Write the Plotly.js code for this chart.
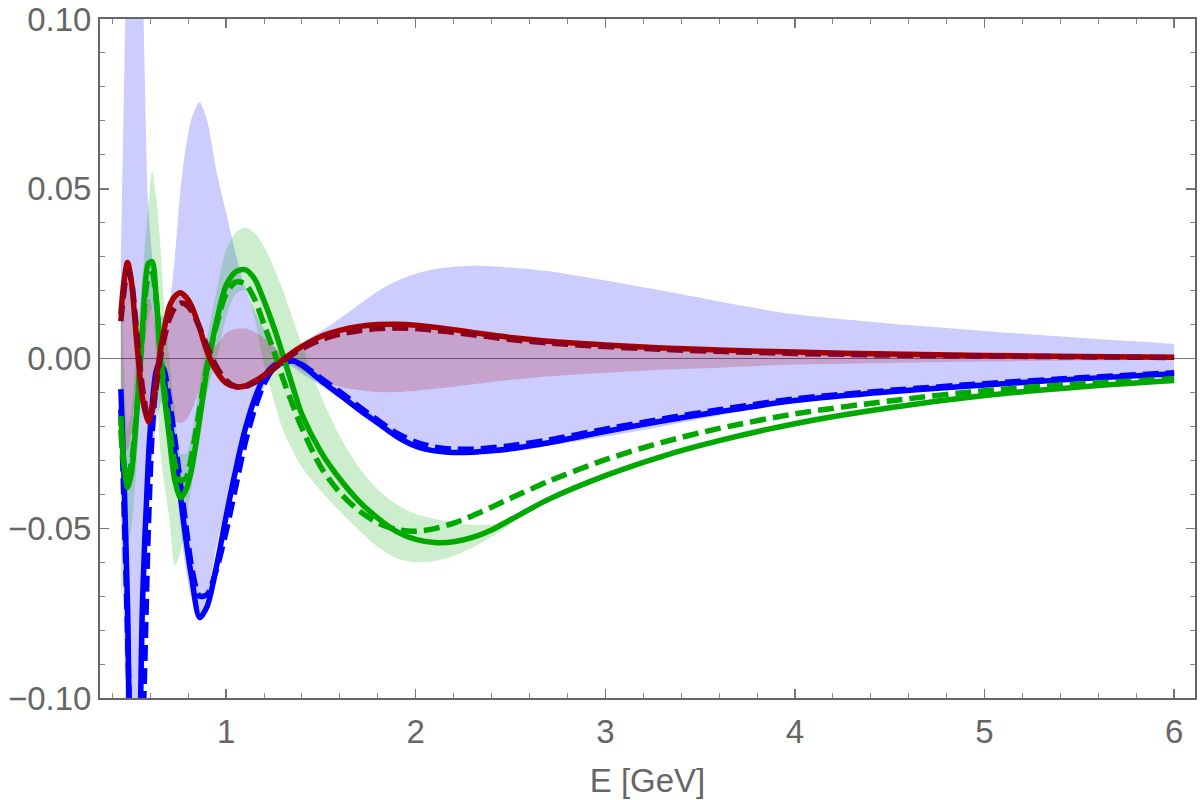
<!DOCTYPE html>
<html>
<head>
<meta charset="utf-8">
<script src="https://cdn.plot.ly/plotly-3.0.1.min.js"></script>
<style>
  html, body { margin: 0; padding: 0; background: #fff; }
  #plot { width: 1200px; height: 800px; }
</style>
</head>
<body>
<div id="plot"></div>
<script>
// energy grid [GeV]
const energy = [0.445, 0.46, 0.48, 0.5, 0.53, 0.56, 0.59, 0.61, 0.63, 0.65, 0.67, 0.7, 0.73, 0.76, 0.79, 0.82, 0.86, 0.9, 0.95, 1.0,
    1.05, 1.1, 1.15, 1.2, 1.25, 1.3, 1.35, 1.4, 1.5, 1.6, 1.7, 1.8, 1.9, 2.0, 2.1, 2.2, 2.3, 2.4, 2.5, 2.7,
    3.0, 3.3, 3.6, 4.0, 4.5, 5.0, 5.5, 6.0]

const blueSolid = [-0.009, -0.032, -0.072, -0.12, -0.13, -0.07, -0.03, -0.014, -0.004, -0.001, -0.005, -0.017, -0.028, -0.041, -0.054, -0.065, -0.0763, -0.073, -0.061, -0.0465,
    -0.033, -0.021, -0.012, -0.0055, -0.0022, -0.0008, -0.0006, -0.002, -0.0065, -0.0107, -0.015, -0.0190, -0.0230, -0.0258, -0.0272, -0.0277, -0.0276, -0.0272, -0.0266, -0.0248,
    -0.0215, -0.0184, -0.0157, -0.0124, -0.0098, -0.0078, -0.006, -0.0045]
const blueDashed = [-0.015, -0.04, -0.08, -0.12, -0.14, -0.11, -0.05, -0.022, -0.008, -0.002, -0.003, -0.012, -0.024, -0.037, -0.05, -0.062, -0.070, -0.0695, -0.062, -0.051,
    -0.038, -0.025, -0.015, -0.0075, -0.003, -0.0012, -0.0008, -0.0018, -0.0058, -0.0098, -0.0141, -0.0182, -0.0220, -0.0246, -0.0261, -0.0267, -0.0267, -0.0263, -0.0257, -0.024,
    -0.0208, -0.0178, -0.0151, -0.0119, -0.0094, -0.0074, -0.0057, -0.0042]

const greenSolid = [-0.017, -0.03, -0.038, -0.034, -0.015, 0.01, 0.028, 0.0285, 0.019, 0.003, -0.009, -0.023, -0.036, -0.041, -0.0385, -0.032, -0.018, -0.003, 0.011, 0.0215,
    0.0255, 0.0262, 0.0235, 0.017, 0.0095, 0.001, -0.008, -0.0165, -0.0275, -0.0355, -0.042, -0.047, -0.051, -0.0533, -0.0542, -0.054, -0.0527, -0.0505, -0.0475, -0.0415,
    -0.0345, -0.0288, -0.0242, -0.0192, -0.0145, -0.0109, -0.0084, -0.0065]
const greenDashed = [-0.021, -0.031, -0.035, -0.031, -0.014, 0.008, 0.024, 0.025, 0.018, 0.005, -0.007, -0.02, -0.031, -0.036, -0.035, -0.028, -0.015, -0.002, 0.01, 0.019,
    0.0225, 0.022, 0.0175, 0.01, 0.0025, -0.006, -0.0135, -0.0205, -0.032, -0.0395, -0.0448, -0.0484, -0.0504, -0.0509, -0.0501, -0.0485, -0.0463, -0.0438, -0.0412, -0.0362,
    -0.0298, -0.0247, -0.0206, -0.0163, -0.0125, -0.0095, -0.0075, -0.006]

const redSolid = [0.013, 0.022, 0.0283, 0.023, 0.004, -0.012, -0.0187, -0.0145, -0.007, 0.001, 0.0075, 0.0152, 0.0183, 0.0194, 0.018, 0.0152, 0.009, 0.002, -0.0038, -0.0072,
    -0.0083, -0.0081, -0.0067, -0.0049, -0.0027, -0.0004, 0.0018, 0.0036, 0.0065, 0.0083, 0.0094, 0.01, 0.0101, 0.0098, 0.0092, 0.0085, 0.0077, 0.0069, 0.0062, 0.0051,
    0.004, 0.0031, 0.0025, 0.0019, 0.0013, 0.0009, 0.0006, 0.0004]
const redDashed = [0.011, 0.019, 0.026, 0.023, 0.007, -0.009, -0.0175, -0.0155, -0.009, -0.001, 0.005, 0.0115, 0.015, 0.0163, 0.0158, 0.0138, 0.0092, 0.0035, -0.0025, -0.0065,
    -0.0082, -0.0083, -0.0071, -0.0053, -0.0031, -0.0009, 0.0012, 0.0029, 0.0055, 0.0072, 0.0082, 0.0088, 0.009, 0.0088, 0.0083, 0.0077, 0.007, 0.0063, 0.0056, 0.0046,
    0.0035, 0.0027, 0.0021, 0.0015, 0.001, 0.0007, 0.0005, 0.0003]

// half widths of the symmetric bands around zero
const blueBand = [0.03, 0.075, 0.13, 0.16, 0.16, 0.11, 0.045, 0.03, 0.02, 0.014, 0.012, 0.016, 0.03, 0.05, 0.063, 0.071, 0.0755, 0.07, 0.055, 0.043,
    0.031, 0.021, 0.014, 0.0085, 0.004, 0.0015, 0.0025, 0.0045, 0.008, 0.0118, 0.0158, 0.0198, 0.0229, 0.0250, 0.0263, 0.0270, 0.0273, 0.0272, 0.0268, 0.0257,
    0.0230, 0.0200, 0.0168, 0.0130, 0.0103, 0.0081, 0.0061, 0.0043]
const redBand = [0.013, 0.021, 0.027, 0.022, 0.008, 0.011, 0.018, 0.015, 0.008, 0.002, 0.007, 0.015, 0.0185, 0.019, 0.018, 0.015, 0.009, 0.003, 0.004, 0.0075,
    0.0087, 0.0088, 0.0078, 0.006, 0.0035, 0.001, 0.0018, 0.0036, 0.0065, 0.0083, 0.0093, 0.0099, 0.0099, 0.0095, 0.0089, 0.0083, 0.0076, 0.0069, 0.0063, 0.0053,
    0.0042, 0.0033, 0.0027, 0.0018, 0.0013, 0.0009, 0.0006, 0.0004]

// green band edges (only up to E = 2.5)
const greenBandLow = [-0.07, -0.065, -0.055, -0.05, -0.03, -0.005, 0.012, 0.015, 0.0, -0.025, -0.035, -0.047, -0.061, -0.057, -0.047, -0.037, -0.024, -0.01, 0.0, 0.012,
    0.019, 0.02, 0.012, -0.002, -0.012, -0.021, -0.027, -0.032, -0.039, -0.045, -0.0505, -0.0555, -0.0588, -0.06, -0.0597, -0.0582, -0.0557, -0.0525, -0.049]
const greenBandHigh = [0.03, 0.0, -0.02, -0.015, 0.005, 0.025, 0.045, 0.055, 0.048, 0.036, 0.018, 0.0, -0.015, -0.028, -0.028, -0.022, -0.008, 0.006, 0.02, 0.032,
    0.037, 0.0385, 0.037, 0.033, 0.027, 0.02, 0.012, 0.004, -0.011, -0.023, -0.032, -0.0385, -0.043, -0.0458, -0.0472, -0.0483, -0.049, -0.0489, -0.048]

const BLUE = "#0000ff", GREEN = "#00a800", RED = "#a80000", RED_DASH = "#8c0020"

function band(lo, hi, color) {
    const xs = energy.slice(0, hi.length)
    return [
        {x: xs, y: lo, mode: "lines", line: {width: 0, shape: "spline", smoothing: 0.8}, hoverinfo: "skip", showlegend: false},
        {x: xs, y: hi, mode: "lines", fill: "tonexty", fillcolor: color, line: {width: 0, shape: "spline", smoothing: 0.8}, hoverinfo: "skip", showlegend: false}
    ]
}

function curve(y, color, dash) {
    return {
        x: energy, y: y, mode: "lines", showlegend: false,
        line: {color: color, width: 5.5, dash: dash || "solid", shape: "spline", smoothing: 0.8}
    }
}

const data = [
    ...band(blueBand.map(v => -v), blueBand, "rgba(0,0,255,0.2)"),
    ...band(greenBandLow, greenBandHigh, "rgba(0,168,0,0.2)"),
    ...band(redBand.map(v => -v), redBand, "rgba(168,0,0,0.2)"),
    curve(blueSolid, BLUE),
    curve(blueDashed, BLUE, "16px,7px"),
    curve(greenSolid, GREEN),
    curve(greenDashed, GREEN, "16px,7px"),
    curve(redSolid, RED),
    curve(redDashed, RED_DASH, "16px,7px")
]

const axisFont = {family: "Liberation Sans, Arial, sans-serif", size: 33, color: "#666"}

const layout = {
    width: 1200,
    height: 800,
    margin: {l: 100, r: 5, t: 19, b: 102},
    paper_bgcolor: "#fff",
    plot_bgcolor: "#fff",
    font: axisFont,
    showlegend: false,
    xaxis: {
        range: [0.335, 6.11],
        tickvals: [1, 2, 3, 4, 5, 6],
        ticks: "inside",
        ticklen: 9,
        tickwidth: 1.5,
        tickcolor: "#777",
        minor: {dtick: 0.2, tick0: 0, ticks: "inside", ticklen: 5, tickcolor: "#888", tickwidth: 1},
        showline: true,
        linecolor: "#666",
        linewidth: 2,
        mirror: "allticks",
        showgrid: false,
        zeroline: false,
        tickfont: axisFont,
        ticklabelstandoff: 3,
        title: {text: "E [GeV]", font: axisFont, standoff: 20}
    },
    yaxis: {
        range: [-0.1, 0.1],
        dtick: 0.05,
        tick0: 0,
        tickformat: ".2f",
        ticks: "inside",
        ticklen: 9,
        tickwidth: 1.5,
        tickcolor: "#777",
        minor: {dtick: 0.01, tick0: 0, ticks: "inside", ticklen: 5, tickcolor: "#888", tickwidth: 1},
        showline: true,
        linecolor: "#666",
        linewidth: 2,
        mirror: "allticks",
        showgrid: false,
        zeroline: true,
        zerolinecolor: "#777",
        zerolinewidth: 1,
        tickfont: axisFont
    }
}

Plotly.newPlot("plot", data, layout, {staticPlot: true})
</script>
</body>
</html>
